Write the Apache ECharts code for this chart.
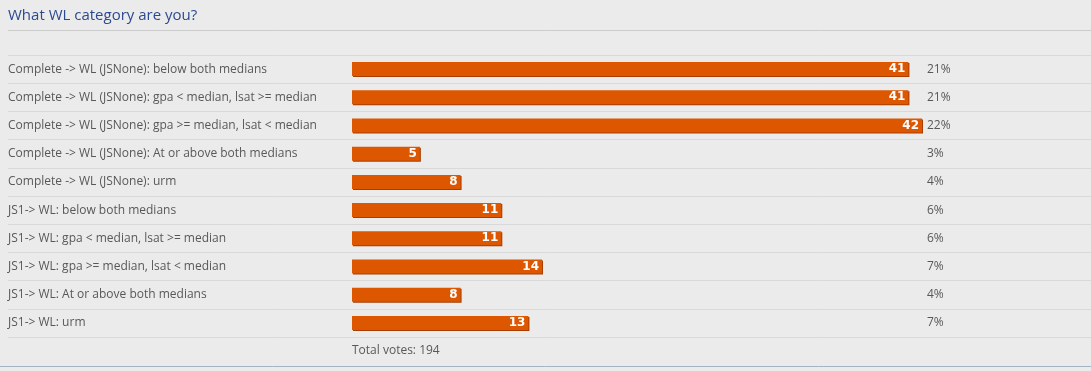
<!DOCTYPE html>
<html>
<head>
<meta charset="utf-8">
<script src="https://cdn.jsdelivr.net/npm/echarts@6/dist/echarts.min.js"></script>
<style>
html,body{margin:0;padding:0;background:#ebebeb;}
#chart{width:1091px;height:371px;}
</style>
</head>
<body>
<div id="chart"></div>
<script>
const chartTitle = 'What WL category are you?';
const categories = [
  'Complete -> WL (JSNone): below both medians',
  'Complete -> WL (JSNone): gpa < median, lsat >= median',
  'Complete -> WL (JSNone): gpa >= median, lsat < median',
  'Complete -> WL (JSNone): At or above both medians',
  'Complete -> WL (JSNone): urm',
  'JS1-> WL: below both medians',
  'JS1-> WL: gpa < median, lsat >= median',
  'JS1-> WL: gpa >= median, lsat < median',
  'JS1-> WL: At or above both medians',
  'JS1-> WL: urm'
];
const votes = [41, 41, 42, 5, 8, 11, 11, 14, 8, 13];
const percentLabels = ['21%', '21%', '22%', '3%', '4%', '6%', '6%', '7%', '4%', '7%'];
const totalVotes = 194;

const chart = echarts.init(document.getElementById('chart'), null, {renderer: 'canvas'});
const textColor = '#585858';
const font = 'Open Sans';

chart.setOption({
  backgroundColor: '#ebebeb',
  animation: false,
  title: [
    {
      text: chartTitle, left: 8, top: 8, padding: 0,
      textStyle: {color: '#2b4a90', fontSize: 15, fontWeight: 'normal', fontFamily: font}
    },
    {
      text: 'Total votes: ' + totalVotes, left: 352, top: 345, padding: 0,
      textStyle: {color: textColor, fontSize: 12, fontWeight: 'normal', fontFamily: font}
    }
  ],
  graphic: [
    {type: 'line', shape: {x1: 8, y1: 30.5, x2: 1091, y2: 30.5}, style: {stroke: '#cccccc', lineWidth: 1}, silent: true},
    {type: 'line', shape: {x1: 0, y1: 366.5, x2: 1091, y2: 366.5}, style: {stroke: '#a3b3c3', lineWidth: 1}, silent: true}
  ],
  grid: [
    {left: 8, right: 0, top: 55, height: 282, containLabel: false},
    {left: 352, width: 570, top: 55, height: 282, containLabel: false}
  ],
  xAxis: [
    {gridIndex: 0, type: 'value', show: false, min: 0, max: 1},
    {gridIndex: 1, type: 'value', show: false, min: 0, max: 42}
  ],
  yAxis: [
    {
      gridIndex: 0, type: 'category', data: categories, inverse: true,
      axisLine: {show: false}, axisTick: {show: false},
      splitLine: {show: true, lineStyle: {color: '#d9d9d9', width: 1}},
      axisLabel: {inside: true, margin: 0, color: textColor, fontSize: 12, fontFamily: font, align: 'left'}
    },
    {
      gridIndex: 1, type: 'category', data: categories, inverse: true,
      axisLine: {show: false}, axisTick: {show: false}, axisLabel: {show: false}, splitLine: {show: false}
    },
    {
      gridIndex: 1, type: 'category', data: percentLabels, inverse: true, position: 'right',
      axisLine: {show: false}, axisTick: {show: false}, splitLine: {show: false},
      axisLabel: {margin: 5, color: textColor, fontSize: 12, fontFamily: font}
    }
  ],
  series: [
    {
      type: 'bar', xAxisIndex: 1, yAxisIndex: 1, data: votes, barWidth: 14,
      itemStyle: {color: '#dd5600', shadowColor: '#a83e00', shadowOffsetX: 1, shadowOffsetY: 1, shadowBlur: 0},
      label: {
        show: true, position: 'insideRight', distance: 3, color: '#ffffff',
        fontSize: 12, fontWeight: 'bold', fontFamily: 'DejaVu Sans'
      }
    }
  ]
});
</script>
</body>
</html>
